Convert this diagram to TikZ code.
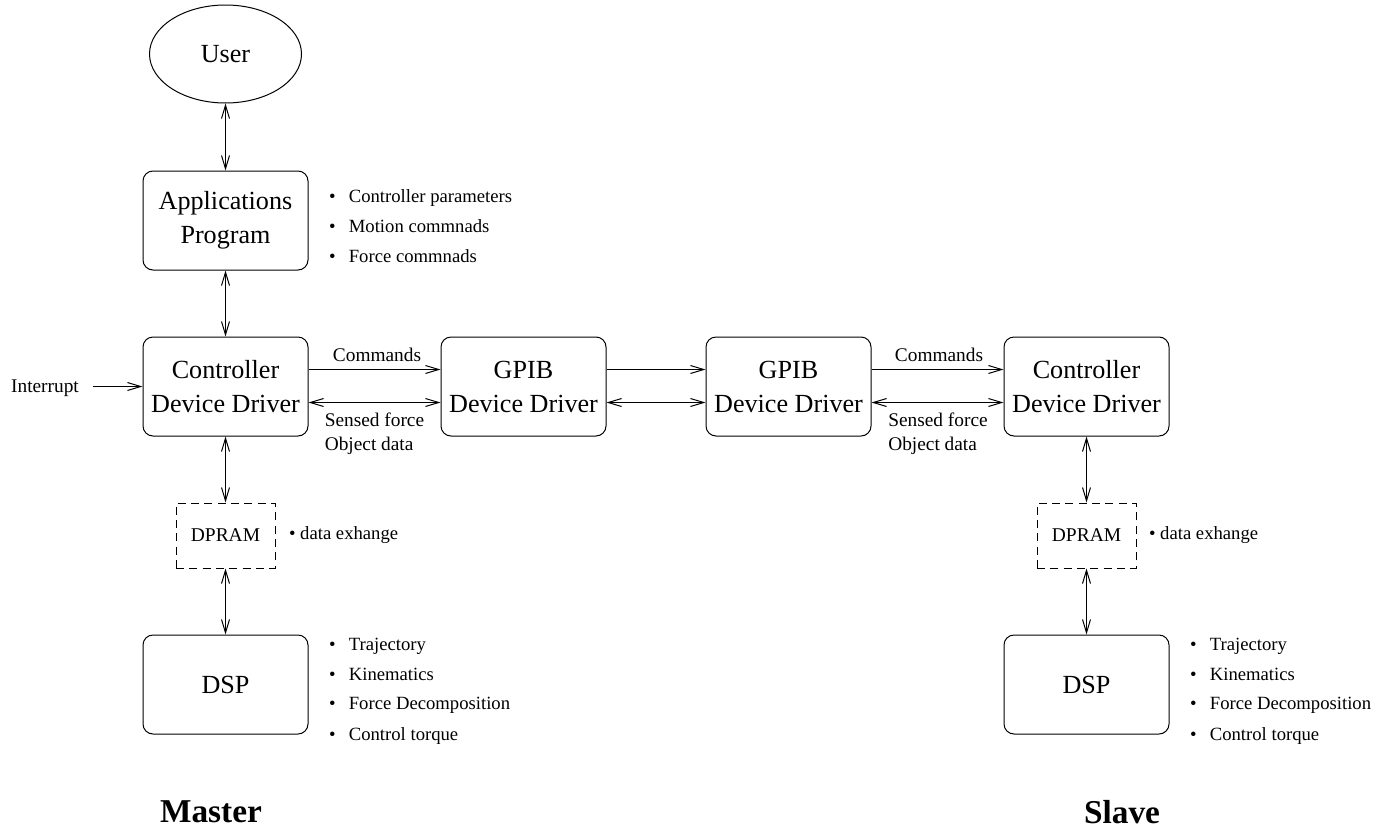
\documentclass[tikz,border=0pt]{standalone}
\usepackage{fontspec}
\setmainfont{Liberation Serif}
\usetikzlibrary{arrows.meta,shapes.geometric}

\tikzset{every picture/.style={line width=0.75pt}}

\begin{document}
\begin{tikzpicture}[x=0.75pt,y=0.75pt,yscale=-1,xscale=1,
  >={Straight Barb[length=10pt,width=6pt]},
  blk/.style={draw, rounded corners=7.5pt, minimum width=123.75pt, minimum height=74.25pt, inner sep=0pt, align=center, font=\fontsize{19.6}{25.5}\selectfont},
  ram/.style={draw, dash pattern={on 6pt off 4pt}, minimum width=74.25pt, minimum height=48.75pt, inner sep=0pt, font=\fontsize{14.6}{18}\selectfont},
  lbl/.style={inner sep=0pt, align=left, font=\fontsize{14.5}{18}\selectfont},
  itm/.style={anchor=west, inner sep=0pt, text height=10pt, text depth=3pt, font=\fontsize{14}{17}\selectfont},
  side/.style={inner sep=0pt, font=\fontsize{25}{30}\selectfont\bfseries}]
\useasboundingbox (0,0) rectangle (1398,839);

%Shape: Ellipse
\node [draw, ellipse, minimum width=114pt, minimum height=73.5pt, inner sep=0pt, font=\fontsize{19.6}{25.5}\selectfont] (user) at (225.5,54) {User};

%Shape: Boxes
\node [blk] (app) at (225.5,220.5) {Applications\\Program};
\node [blk] (mctrl) at (225.5,386.5) {Controller\\Device Driver};
\node [blk] (mgpib) at (523.5,386.5) {GPIB\\Device Driver};
\node [blk] (sgpib) at (788.5,386.5) {GPIB\\Device Driver};
\node [blk] (sctrl) at (1086.5,386.5) {Controller\\Device Driver};
\node [ram] (mdpram) at (225.5,535.5) {DPRAM};
\node [ram] (sdpram) at (1086.5,535.5) {DPRAM};
\node [blk] (mdsp) at (225.5,684.5) {DSP};
\node [blk] (sdsp) at (1086.5,684.5) {DSP};

\coordinate (intin) at (93,386.5);
\coordinate (cmdrow) at (0,369.5);
\coordinate (datrow) at (0,402.5);

%Straight Lines
\draw [<->] (user) -- (app);
\draw [<->] (app) -- (mctrl);
\draw [<->] (mctrl) -- (mdpram);
\draw [<->] (mdpram) -- (mdsp);
\draw [<->] (sctrl) -- (sdpram);
\draw [<->] (sdpram) -- (sdsp);
\draw [->] (intin) -- (mctrl);
\draw [->] (mctrl.east |- cmdrow) -- (mgpib.west |- cmdrow);
\draw [<->] (mctrl.east |- datrow) -- (mgpib.west |- datrow);
\draw [->] (mgpib.east |- cmdrow) -- (sgpib.west |- cmdrow);
\draw [<->] (mgpib.east |- datrow) -- (sgpib.west |- datrow);
\draw [->] (sgpib.east |- cmdrow) -- (sctrl.west |- cmdrow);
\draw [<->] (sgpib.east |- datrow) -- (sctrl.west |- datrow);

% Text Node
\node [lbl] (intr) at (45,388) {Interrupt};
% Text Node
\node [lbl] (mcmd) at (377,355) {Commands};
\node [lbl] (mdat) at (374.5,434) {Sensed force\\Object data};
\node [lbl] (scmd) at (939,355) {Commands};
\node [lbl] (sdat) at (938,434) {Sensed force\\Object data};

% Text Node
\node [itm] (appa) at (328.5,197.5) {\textbullet\hspace{10pt}Controller parameters};
\node [itm] (appb) at (328.5,227.5) {\textbullet\hspace{10pt}Motion commnads};
\node [itm] (appc) at (328.5,257.5) {\textbullet\hspace{10pt}Force commnads};

% Text Node
\node [itm] (mram) at (288.5,535) {\textbullet\ data exhange};
\node [itm] (sram) at (1148.5,535) {\textbullet\ data exhange};

% Text Node
\node [itm] (mdspa) at (328.5,646) {\textbullet\hspace{10pt}Trajectory};
\node [itm] (mdspb) at (328.5,675.5) {\textbullet\hspace{10pt}Kinematics};
\node [itm] (mdspc) at (328.5,705) {\textbullet\hspace{10pt}Force Decomposition};
\node [itm] (mdspd) at (328.5,736) {\textbullet\hspace{10pt}Control torque};
\node [itm] (sdspa) at (1189.5,646) {\textbullet\hspace{10pt}Trajectory};
\node [itm] (sdspb) at (1189.5,675.5) {\textbullet\hspace{10pt}Kinematics};
\node [itm] (sdspc) at (1189.5,705) {\textbullet\hspace{10pt}Force Decomposition};
\node [itm] (sdspd) at (1189.5,736) {\textbullet\hspace{10pt}Control torque};

% Text Node
\node [side] (mlab) at (211,812) {Master};
\node [side] (slab) at (1122,812) {Slave};
\end{tikzpicture}
\end{document}
